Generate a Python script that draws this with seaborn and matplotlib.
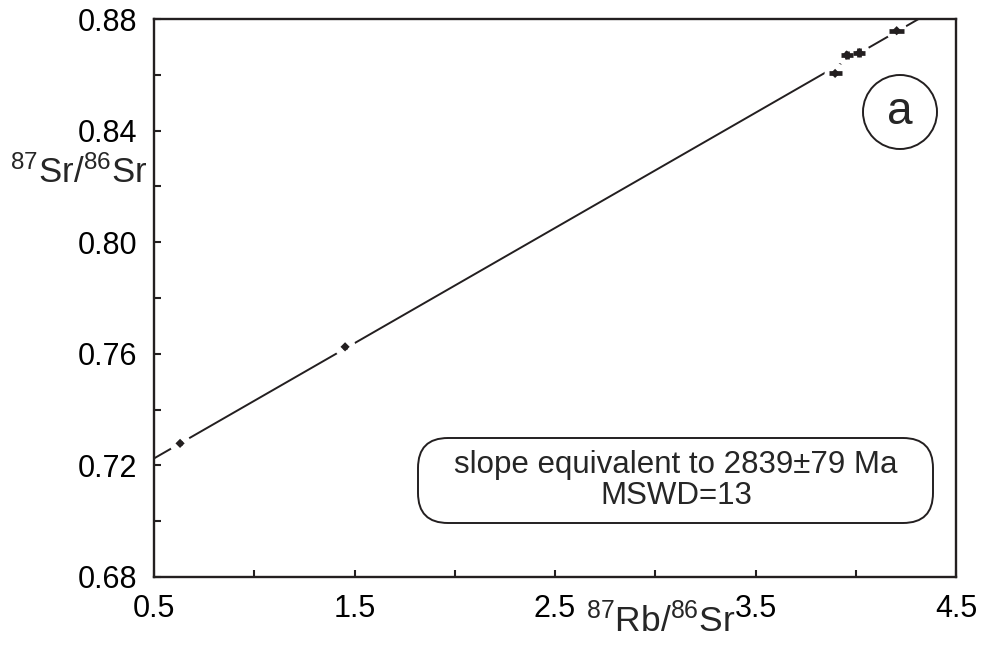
import numpy as np
import pandas as pd
import matplotlib
matplotlib.use("Agg")
import matplotlib.pyplot as plt
import seaborn as sns
from matplotlib.patches import FancyBboxPatch, Circle
from matplotlib.ticker import FixedLocator, FixedFormatter

# ---- data ----
rb_sr = [0.63, 1.453, 3.897, 3.955, 4.018, 4.204]          # 87Rb/86Sr
sr_sr = [0.7279, 0.7625, 0.8605, 0.8671, 0.8679, 0.8758]   # 87Sr/86Sr
rb_err = [0.012, 0.006, 0.032, 0.030, 0.030, 0.036]
sr_err = [0.0004, 0.0008, 0.0005, 0.0016, 0.0016, 0.0006]
isochron_slope = 0.0413
isochron_intercept = 0.70185

x_ticks = [0.5, 1.0, 1.5, 2.0, 2.5, 3.0, 3.5, 4.0, 4.5]
x_labels = ["0.5", "", "1.5", "", "2.5", "", "3.5", "", "4.5"]
y_ticks = [0.68, 0.70, 0.72, 0.74, 0.76, 0.78, 0.80, 0.82, 0.84, 0.86, 0.88]
y_labels = ["0.68", "", "0.72", "", "0.76", "", "0.80", "", "0.84", "", "0.88"]

annotation_lines = ["slope equivalent to 2839\u00b179 Ma", "MSWD=13"]
panel_label = "a"
x_title = "$^{87}$Rb/$^{86}$Sr"
y_title = "$^{87}$Sr/$^{86}$Sr"

df = pd.DataFrame({"rb": rb_sr, "sr": sr_sr, "xe": rb_err, "ye": sr_err})

# ---- style ----
sns.set_theme(style="ticks")
plt.rcParams["font.family"] = ["Liberation Sans", "DejaVu Sans"]
plt.rcParams["mathtext.fontset"] = "custom"
plt.rcParams["mathtext.rm"] = "Liberation Sans"
plt.rcParams["mathtext.it"] = "Liberation Sans:italic"
plt.rcParams["mathtext.bf"] = "Liberation Sans:bold"

ink = "#231f20"
W, H = 9.84, 6.47
fig = plt.figure(figsize=(W, H), dpi=100)
ax = fig.add_axes([154 / 984, 1 - 577 / 647, 802 / 984, 558 / 647])

# isochron line
ax.axline((0, isochron_intercept), slope=isochron_slope, color=ink, lw=1.4, zorder=1)
# white gaps around each point
sns.scatterplot(data=df, x="rb", y="sr", ax=ax, s=230, color="white",
                edgecolor="none", marker="o", zorder=2, legend=False)
# error boxes
ax.errorbar(df["rb"], df["sr"], xerr=df["xe"], yerr=df["ye"], fmt="none",
            ecolor=ink, elinewidth=3.4, capsize=0, zorder=3)
sns.scatterplot(data=df, x="rb", y="sr", ax=ax, s=22, color=ink,
                edgecolor="none", marker="D", zorder=4, legend=False)

ax.set_xlim(0.5, 4.5)
ax.set_ylim(0.68, 0.88)
ax.xaxis.set_major_locator(FixedLocator(x_ticks))
ax.xaxis.set_major_formatter(FixedFormatter(x_labels))
ax.yaxis.set_major_locator(FixedLocator(y_ticks))
ax.yaxis.set_major_formatter(FixedFormatter(y_labels))
ax.tick_params(direction="in", length=5, width=1.5, colors=ink, labelsize=22,
               labelcolor="black")
ax.tick_params(axis="y", pad=12)
ax.tick_params(axis="x", pad=12)
ax.set_xlabel("")
ax.set_ylabel("")
for sp in ax.spines.values():
    sp.set_visible(True)
    sp.set_linewidth(1.7)
    sp.set_color(ink)

# axis titles
ax.text((661 - 154) / 802, (577 - 632) / 558, x_title, transform=ax.transAxes,
        ha="center", va="baseline", fontsize=25.5)
ax.text((147 - 154) / 802, (577 - 183) / 558, y_title, transform=ax.transAxes,
        ha="right", va="baseline", fontsize=25)

# annotation box (positions in inches = px/100)
box = FancyBboxPatch((4.18, H - 5.23), 5.15, 0.85,
                     boxstyle="round,pad=0,rounding_size=0.3",
                     transform=fig.dpi_scale_trans, fc="white", ec=ink, lw=1.4,
                     zorder=5)
fig.add_artist(box)
fig.text(6.76, H - 4.805, "\n".join(annotation_lines), transform=fig.dpi_scale_trans,
         ha="center", va="center", fontsize=22.5, linespacing=1.05, zorder=6)

# panel label
circ = Circle((9.00, H - 1.12), 0.37, transform=fig.dpi_scale_trans,
              fc="white", ec=ink, lw=1.4, zorder=5)
fig.add_artist(circ)
fig.text(9.00, H - 1.24, panel_label, transform=fig.dpi_scale_trans,
         ha="center", va="baseline", fontsize=33, zorder=6)

fig.savefig("out.png", dpi=100)
